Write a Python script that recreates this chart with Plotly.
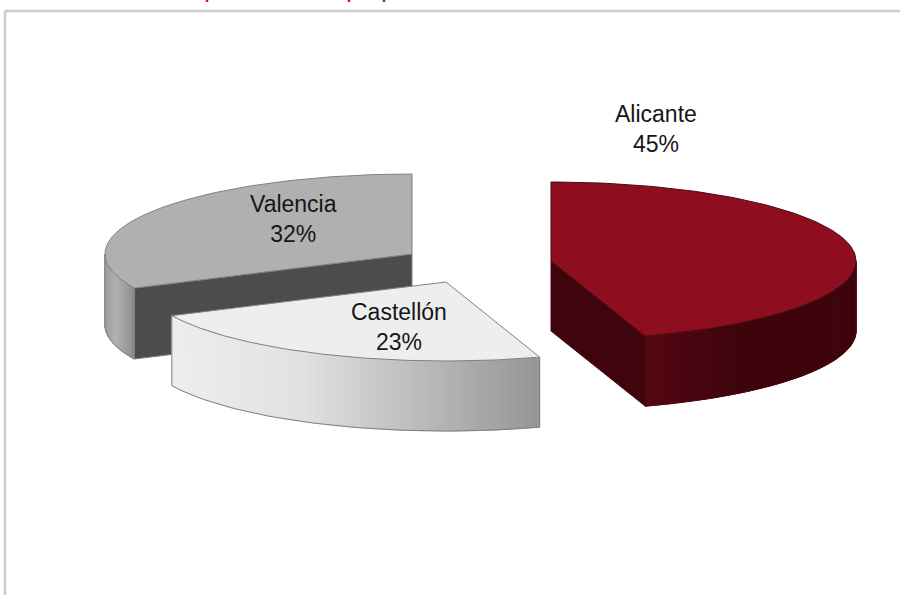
import numpy as np
import plotly.graph_objects as go

# ---- data ----
categories = ["Alicante", "Castellón", "Valencia"]
shares = [45, 23, 32]

# ---- drawing style ----
W, H = 900, 595
centers = {"Alicante": (551, 261), "Castellón": (446, 282), "Valencia": (412, 254)}
radii = {"Alicante": (305, 79), "Castellón": (303, 79), "Valencia": (307, 80)}
depths = {"Alicante": 70, "Castellón": 70, "Valencia": 71}
top_colors = {"Alicante": "#8e0e1f", "Castellón": "#eeeeee", "Valencia": "#b0b0b0"}
wall_colors = {"Alicante": "#40040d", "Castellón": None, "Valencia": "#4c4c4c"}
edge_colors = {"Alicante": "#4a0a12", "Castellón": "#808080", "Valencia": "#808080"}
# side gradient stops: position along the visible side (0 = left, 1 = right), rgb
side_stops = {
    "Alicante": [(0.0, (84, 8, 18)), (0.25, (72, 6, 16)), (0.45, (62, 4, 12)), (1.0, (62, 4, 12))],
    "Castellón": [(0.0, (238, 238, 238)), (0.35, (226, 226, 226)), (0.7, (184, 184, 184)), (1.0, (150, 150, 150))],
    "Valencia": [(0.0, (160, 160, 160)), (0.35, (178, 178, 178)), (0.7, (160, 160, 160)), (1.0, (134, 134, 134))],
}
label_pos = {"Alicante": (656, 129), "Castellón": (399, 327), "Valencia": (293, 219)}
title_marks_x = [207, 349, 384]
FRAME = "#cccccc"
INK = "#161616"

fig = go.Figure()


def rim(name, deg):
    cx, cy = centers[name]
    rx, ry = radii[name]
    a = np.radians(deg)
    return cx + rx * np.sin(a), cy - ry * np.cos(a)


def poly(xs, ys, fill, line=None, width=1):
    fig.add_trace(go.Scatter(
        x=list(xs), y=list(ys), mode="lines", fill="toself", fillcolor=fill,
        line=dict(color=line or fill, width=width), hoverinfo="skip", showlegend=False))


def stroke(xs, ys, color, width=1):
    fig.add_trace(go.Scatter(
        x=list(xs), y=list(ys), mode="lines", line=dict(color=color, width=width),
        hoverinfo="skip", showlegend=False))


def shade(stops, t):
    pos = [s[0] for s in stops]
    c = [np.interp(t, pos, [s[1][i] for s in stops]) for i in range(3)]
    return "rgb(%d,%d,%d)" % tuple(c)


# slice angles come from the shares (clockwise from 12 o'clock)
total = sum(shares)
ends = np.cumsum(shares) / total * 360
spans = {c: (e - s / total * 360, e) for c, s, e in zip(categories, shares, ends)}


def draw_slice(name):
    a0, a1 = spans[name]
    cx, cy = centers[name]
    d = depths[name]
    edge = edge_colors[name]

    # flat cut wall, seen only where it faces the viewer
    wall_angle = {"Alicante": a1, "Valencia": a0}.get(name)
    if wall_angle is not None:
        ex, ey = rim(name, wall_angle)
        poly([cx, ex, ex, cx, cx], [cy, ey, ey + d, cy + d, cy], wall_colors[name], edge)

    # outer curved side: the part of the arc in the front half of the ellipse
    s0, s1 = max(a0, 90), min(a1, 270)
    if s1 > s0:
        ang = np.linspace(s0, s1, 56)
        px, py = rim(name, ang)
        xmin, xmax = px.min(), px.max()
        for i in range(len(ang) - 1):
            t = ((px[i] + px[i + 1]) / 2 - xmin) / (xmax - xmin)
            col = shade(side_stops[name], t)
            poly([px[i], px[i + 1], px[i + 1], px[i], px[i]],
                 [py[i], py[i + 1], py[i + 1] + d, py[i] + d, py[i]], col)
        stroke(px, py + d, edge)
        stroke([px[0], px[0]], [py[0], py[0] + d], edge)
        stroke([px[-1], px[-1]], [py[-1], py[-1] + d], edge)

    # top face
    ang = np.linspace(a0, a1, 140)
    tx, ty = rim(name, ang)
    poly(np.r_[cx, tx, cx], np.r_[cy, ty, cy], top_colors[name], edge)


for name in ["Valencia", "Castellón", "Alicante"]:
    draw_slice(name)

annotations = []
for name, share in zip(categories, shares):
    lx, ly = label_pos[name]
    annotations.append(dict(
        x=lx, y=ly, xref="x", yref="y", text=f"{name}<br>{share}%", showarrow=False,
        align="center", font=dict(family="Liberation Sans, Arial, sans-serif", size=23, color=INK)))

shapes = [
    dict(type="line", xref="x", yref="y", x0=5, x1=5, y0=11, y1=H, line=dict(color=FRAME, width=2.5)),
    dict(type="line", xref="x", yref="y", x0=5, x1=W, y0=11, y1=11, line=dict(color=FRAME, width=2.5)),
]
for mx in title_marks_x:
    shapes.append(dict(type="line", xref="x", yref="y", x0=mx, x1=mx, y0=0, y1=2,
                       line=dict(color="#c0183c", width=2.5)))

fig.update_layout(
    width=W, height=H, margin=dict(l=0, r=0, t=0, b=0), autosize=False,
    paper_bgcolor="white", plot_bgcolor="white", showlegend=False,
    xaxis=dict(range=[0, W], visible=False, fixedrange=True),
    yaxis=dict(range=[H, 0], visible=False, fixedrange=True),
    annotations=annotations, shapes=shapes,
)
fig.write_html("out.html", config={"displayModeBar": False},
               post_script="document.body.style.margin='0';document.body.style.overflow='hidden';")
